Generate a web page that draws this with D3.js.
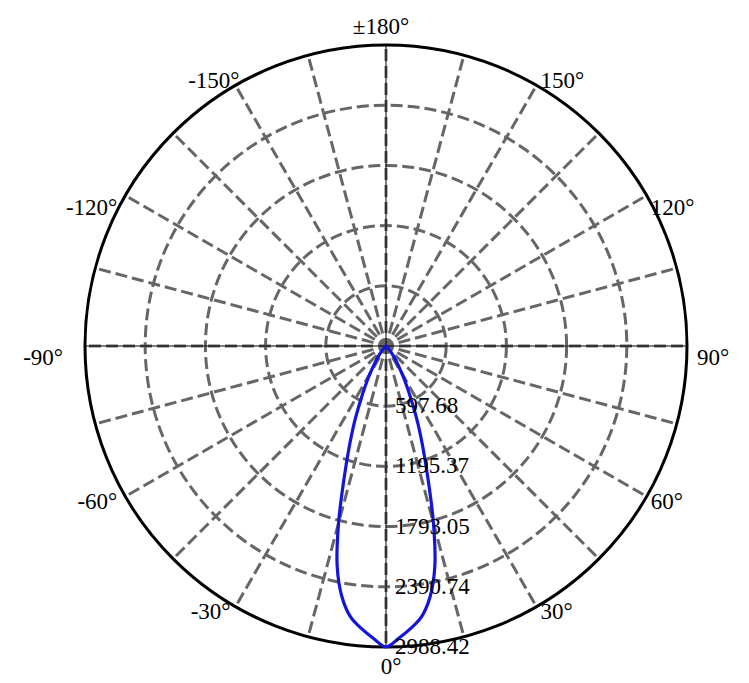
<!DOCTYPE html>
<html>
<head>
<meta charset="utf-8">
<script src="https://cdn.jsdelivr.net/npm/d3@7"></script>
<style>
  body { margin: 0; background: #fff; }
  text { font-family: "Times New Roman", "Liberation Serif", serif; font-size: 23px; fill: #000; }
</style>
</head>
<body>
<svg id="chart" width="749" height="683"></svg>
<script>
// luminous intensity (cd), by angle in degrees
const angles = [-180, -90, -70, -65, -60, -55, -50, -45, -40, -35, -30, -27.5, -25, -22.5, -20, -17.5, -15, -12.5, -10, -7.5, -5, -2.5,
  0, 2.5, 5, 7.5, 10, 12.5, 15, 17.5, 20, 22.5, 25, 27.5, 30, 35, 40, 45, 50, 55, 60, 65, 70, 90, 180]
const intensity = [0, 0, 0, 1, 2, 5, 12, 30, 70, 160, 320, 440, 600, 820, 1070, 1390, 1820, 2240, 2525, 2710, 2815, 2905,
  2988, 2905, 2815, 2710, 2525, 2240, 1820, 1390, 1070, 820, 600, 440, 320, 160, 70, 30, 12, 5, 2, 1, 0, 0, 0]

const ringValues = [597.68, 1195.37, 1793.05, 2390.74, 2988.42]
const ringLabels = ['597.68', '1195.37', '1793.05', '2390.74', '2988.42']
const spokeAngles = d3.range(0, 360, 15)
const tickAngles = [0, 30, 60, 90, 120, 150, 180, -150, -120, -90, -60, -30]
const tickLabels = ['0°', '30°', '60°', '90°', '120°', '150°', '±180°', '-150°', '-120°', '-90°', '-60°', '-30°']

const svg = d3.select('#chart'),
  cx = 386,
  cy = 346,
  R = 301

const r = d3.scaleLinear().domain([0, 2988.42]).range([0, R])
const rad = (d) => (d * Math.PI) / 180
// 0° points down, 90° to the right
const px = (a, rr) => cx + rr * Math.sin(rad(a))
const py = (a, rr) => cy + rr * Math.cos(rad(a))

const grid = svg.append('g')
  .attr('fill', 'none')
  .attr('stroke', '#666')
  .attr('stroke-width', 3)
  .attr('stroke-dasharray', '12,5')

grid.selectAll('circle')
  .data(ringValues.slice(0, -1))
  .enter()
  .append('circle')
  .attr('cx', cx)
  .attr('cy', cy)
  .attr('r', (d) => r(d))

grid.selectAll('line')
  .data(spokeAngles)
  .enter()
  .append('line')
  .attr('stroke-dashoffset', 4)
  .attr('x1', cx)
  .attr('y1', cy)
  .attr('x2', (d) => px(d, R))
  .attr('y2', (d) => py(d, R))

// thin solid axes through the centre
svg.append('g')
  .attr('stroke', '#000')
  .attr('stroke-width', 1)
  .selectAll('line')
  .data([0, 90])
  .enter()
  .append('line')
  .attr('x1', (d) => px(d, R))
  .attr('y1', (d) => py(d, R))
  .attr('x2', (d) => px(d + 180, R))
  .attr('y2', (d) => py(d + 180, R))

svg.append('circle')
  .attr('cx', cx)
  .attr('cy', cy)
  .attr('r', R)
  .attr('fill', 'none')
  .attr('stroke', '#000')
  .attr('stroke-width', 3)

const line = d3.lineRadial()
  .angle((d) => Math.PI - rad(d[0]))
  .radius((d) => r(d[1]))
  .curve(d3.curveCatmullRomClosed)

svg.append('path')
  .datum(angles.slice(0, -1).map((a, i) => [a, intensity[i]]))
  .attr('transform', `translate(${cx},${cy})`)
  .attr('d', line)
  .attr('fill', 'none')
  .attr('stroke', '#1414dc')
  .attr('stroke-width', 3.2)

svg.append('g')
  .selectAll('text')
  .data(ringValues)
  .enter()
  .append('text')
  .attr('x', cx + 9)
  .attr('y', (d) => cy + r(d) + 7)
  .text((d, i) => ringLabels[i])

svg.append('g')
  .selectAll('text')
  .data(tickAngles)
  .enter()
  .append('text')
  .each(function (a, i) {
    const s = Math.sin(rad(a)),
      c = Math.cos(rad(a)),
      x0 = px(a, R),
      y0 = py(a, R),
      t = d3.select(this).text(tickLabels[i])
    if (Math.abs(s) < 0.01) {
      t.attr('text-anchor', 'middle')
        .attr('x', x0 + (c > 0 ? 5 : -5))
        .attr('y', c > 0 ? y0 + 27 : y0 - 11)
    } else {
      let dx
      if (c < -0.7) dx = 4
      else if (Math.abs(s) > 0.99) dx = s > 0 ? 10 : -22
      else if (s > 0) dx = 4
      else dx = c > 0.7 ? -5 : -8
      const dy = c < -0.7 ? 3 : c > 0.25 ? 12.5 : 19
      t.attr('text-anchor', s > 0 ? 'start' : 'end')
        .attr('x', x0 + dx)
        .attr('y', y0 + dy)
    }
  })
</script>
</body>
</html>
